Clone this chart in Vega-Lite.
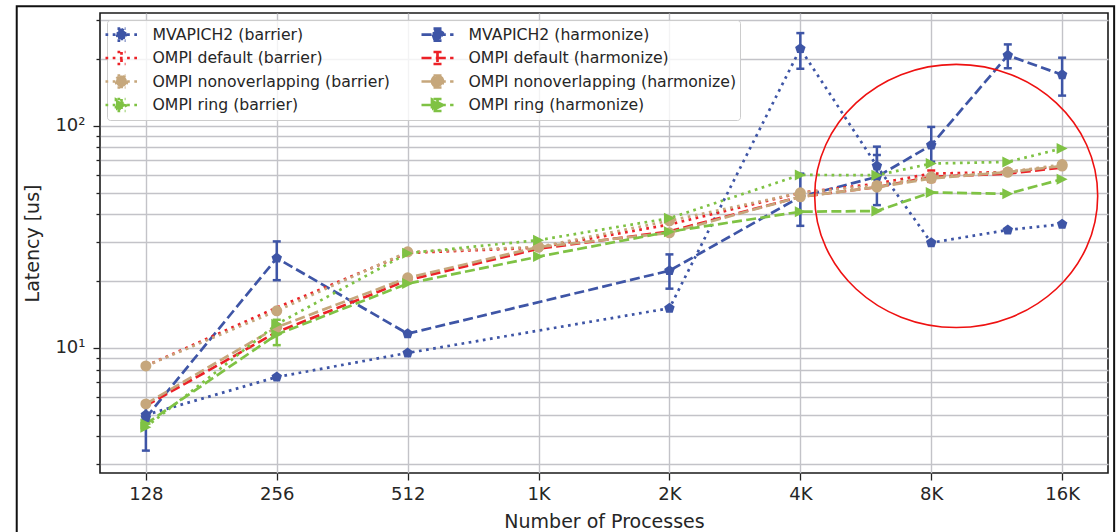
{
  "$schema": "https://vega.github.io/schema/vega-lite/v6.json",
  "width": 1008,
  "height": 460,
  "autosize": {"type": "none"},
  "padding": {"left": 100, "top": 13, "right": 11, "bottom": 59},
  "background": "white",
  "config": {
    "font": "DejaVu Sans",
    "view": {"stroke": "#1a1a1a", "strokeWidth": 1.6},
    "axis": {
      "domain": false,
      "grid": true,
      "gridColor": "#c3c3c8",
      "gridWidth": 1.4,
      "tickColor": "#222222",
      "tickWidth": 1.3,
      "labelFont": "DejaVu Sans",
      "labelColor": "#262626",
      "labelFontSize": 18,
      "titleFont": "DejaVu Sans",
      "titleColor": "#262626",
      "titleFontSize": 19,
      "titleFontWeight": "normal",
      "labelOverlap": false,
      "labelFlush": false
    }
  },
  "datasets": {
    "pts": [
      {"s": "MVAPICH2 (barrier)", "n": 128, "lat": 5.0},
      {"s": "MVAPICH2 (barrier)", "n": 256, "lat": 7.4},
      {"s": "MVAPICH2 (barrier)", "n": 512, "lat": 9.5},
      {"s": "MVAPICH2 (barrier)", "n": 2048, "lat": 15.1},
      {"s": "MVAPICH2 (barrier)", "n": 4096, "lat": 223, "lo": 181, "hi": 262},
      {"s": "MVAPICH2 (barrier)", "n": 6144, "lat": 66, "lo": 55, "hi": 80.7},
      {"s": "MVAPICH2 (barrier)", "n": 8192, "lat": 29.8},
      {"s": "MVAPICH2 (barrier)", "n": 12288, "lat": 34.0},
      {"s": "MVAPICH2 (barrier)", "n": 16384, "lat": 36.1},
      {"s": "MVAPICH2 (harmonize)", "n": 128, "lat": 4.85, "lo": 3.45, "hi": 5.6},
      {"s": "MVAPICH2 (harmonize)", "n": 256, "lat": 25.4, "lo": 20.2, "hi": 30.2},
      {"s": "MVAPICH2 (harmonize)", "n": 512, "lat": 11.6},
      {"s": "MVAPICH2 (harmonize)", "n": 2048, "lat": 22.3, "lo": 18.5, "hi": 26.4},
      {"s": "MVAPICH2 (harmonize)", "n": 4096, "lat": 48, "lo": 35.5, "hi": 61},
      {"s": "MVAPICH2 (harmonize)", "n": 6144, "lat": 59, "lo": 44, "hi": 74},
      {"s": "MVAPICH2 (harmonize)", "n": 8192, "lat": 82, "lo": 69, "hi": 99},
      {"s": "MVAPICH2 (harmonize)", "n": 12288, "lat": 208, "lo": 182, "hi": 233},
      {"s": "MVAPICH2 (harmonize)", "n": 16384, "lat": 170, "lo": 137, "hi": 203},
      {"s": "OMPI default (barrier)", "n": 128, "lat": 8.3},
      {"s": "OMPI default (barrier)", "n": 256, "lat": 15.2},
      {"s": "OMPI default (barrier)", "n": 512, "lat": 26.8},
      {"s": "OMPI default (barrier)", "n": 1024, "lat": 28.3},
      {"s": "OMPI default (barrier)", "n": 2048, "lat": 36},
      {"s": "OMPI default (barrier)", "n": 4096, "lat": 50},
      {"s": "OMPI default (barrier)", "n": 6144, "lat": 55},
      {"s": "OMPI default (barrier)", "n": 8192, "lat": 61},
      {"s": "OMPI default (barrier)", "n": 12288, "lat": 62},
      {"s": "OMPI default (barrier)", "n": 16384, "lat": 66},
      {"s": "OMPI default (harmonize)", "n": 128, "lat": 5.5},
      {"s": "OMPI default (harmonize)", "n": 256, "lat": 11.8},
      {"s": "OMPI default (harmonize)", "n": 512, "lat": 20.2},
      {"s": "OMPI default (harmonize)", "n": 1024, "lat": 28},
      {"s": "OMPI default (harmonize)", "n": 2048, "lat": 33.5},
      {"s": "OMPI default (harmonize)", "n": 4096, "lat": 48},
      {"s": "OMPI default (harmonize)", "n": 6144, "lat": 53},
      {"s": "OMPI default (harmonize)", "n": 8192, "lat": 59, "lo": 56, "hi": 63},
      {"s": "OMPI default (harmonize)", "n": 12288, "lat": 61},
      {"s": "OMPI default (harmonize)", "n": 16384, "lat": 65},
      {"s": "OMPI nonoverlapping (barrier)", "n": 128, "lat": 8.3},
      {"s": "OMPI nonoverlapping (barrier)", "n": 256, "lat": 14.7},
      {"s": "OMPI nonoverlapping (barrier)", "n": 512, "lat": 27.1},
      {"s": "OMPI nonoverlapping (barrier)", "n": 1024, "lat": 28.5},
      {"s": "OMPI nonoverlapping (barrier)", "n": 2048, "lat": 37.4},
      {"s": "OMPI nonoverlapping (barrier)", "n": 4096, "lat": 50},
      {"s": "OMPI nonoverlapping (barrier)", "n": 6144, "lat": 54},
      {"s": "OMPI nonoverlapping (barrier)", "n": 8192, "lat": 59},
      {"s": "OMPI nonoverlapping (barrier)", "n": 12288, "lat": 62},
      {"s": "OMPI nonoverlapping (barrier)", "n": 16384, "lat": 67},
      {"s": "OMPI nonoverlapping (harmonize)", "n": 128, "lat": 5.6},
      {"s": "OMPI nonoverlapping (harmonize)", "n": 256, "lat": 12.4},
      {"s": "OMPI nonoverlapping (harmonize)", "n": 512, "lat": 20.7},
      {"s": "OMPI nonoverlapping (harmonize)", "n": 1024, "lat": 28.5},
      {"s": "OMPI nonoverlapping (harmonize)", "n": 2048, "lat": 33},
      {"s": "OMPI nonoverlapping (harmonize)", "n": 4096, "lat": 48},
      {"s": "OMPI nonoverlapping (harmonize)", "n": 6144, "lat": 53},
      {"s": "OMPI nonoverlapping (harmonize)", "n": 8192, "lat": 58},
      {"s": "OMPI nonoverlapping (harmonize)", "n": 12288, "lat": 62},
      {"s": "OMPI nonoverlapping (harmonize)", "n": 16384, "lat": 66},
      {"s": "OMPI ring (barrier)", "n": 128, "lat": 4.4},
      {"s": "OMPI ring (barrier)", "n": 256, "lat": 12.8, "lo": 10.3, "hi": 13.4},
      {"s": "OMPI ring (barrier)", "n": 512, "lat": 26.7},
      {"s": "OMPI ring (barrier)", "n": 1024, "lat": 30.6},
      {"s": "OMPI ring (barrier)", "n": 2048, "lat": 38.4},
      {"s": "OMPI ring (barrier)", "n": 4096, "lat": 60.2},
      {"s": "OMPI ring (barrier)", "n": 6144, "lat": 60},
      {"s": "OMPI ring (barrier)", "n": 8192, "lat": 67.7},
      {"s": "OMPI ring (barrier)", "n": 12288, "lat": 68.9},
      {"s": "OMPI ring (barrier)", "n": 16384, "lat": 79.2},
      {"s": "OMPI ring (harmonize)", "n": 128, "lat": 4.55},
      {"s": "OMPI ring (harmonize)", "n": 256, "lat": 11.5},
      {"s": "OMPI ring (harmonize)", "n": 512, "lat": 19.5},
      {"s": "OMPI ring (harmonize)", "n": 1024, "lat": 25.8},
      {"s": "OMPI ring (harmonize)", "n": 2048, "lat": 33.4},
      {"s": "OMPI ring (harmonize)", "n": 4096, "lat": 41.1},
      {"s": "OMPI ring (harmonize)", "n": 6144, "lat": 41.4},
      {"s": "OMPI ring (harmonize)", "n": 8192, "lat": 50.2},
      {"s": "OMPI ring (harmonize)", "n": 12288, "lat": 49.5},
      {"s": "OMPI ring (harmonize)", "n": 16384, "lat": 57.6}
    ],
    "note": [{"n": 9350, "lat": 48.4}]
  },
  "layer": [
    {
      "data": {"name": "pts"},
      "mark": {"type": "line", "strokeWidth": 2.7, "strokeCap": "butt"},
      "encoding": {
        "x": {
          "field": "n", "type": "quantitative",
          "scale": {"type": "log", "base": 2, "domain": [100.4, 20890], "nice": false},
          "axis": {
            "values": [128, 256, 512, 1024, 2048, 4096, 8192, 16384],
            "labelExpr": "datum.value >= 1024 ? (datum.value / 1024) + 'K' : '' + datum.value",
            "title": "Number of Processes",
            "tickSize": 7,
            "labelPadding": 5,
            "titlePadding": 9
          }
        },
        "y": {
          "field": "lat", "type": "quantitative",
          "scale": {"type": "log", "domain": [2.735, 322.7], "nice": false},
          "axis": {
            "values": [3, 4, 5, 6, 7, 8, 9, 10, 20, 30, 40, 50, 60, 70, 80, 90, 100, 200, 300],
            "labelExpr": "datum.value == 10 ? '10¹' : datum.value == 100 ? '10²' : ''",
            "tickSize": {"condition": {"test": "datum.value == 10 || datum.value == 100", "value": 7}, "value": 4},
            "title": "Latency [us]",
            "labelPadding": 8,
            "titlePadding": 12
          }
        },
        "color": {
          "field": "s", "type": "nominal",
          "scale": {
            "domain": ["MVAPICH2 (barrier)", "OMPI default (barrier)", "OMPI nonoverlapping (barrier)", "OMPI ring (barrier)", "MVAPICH2 (harmonize)", "OMPI default (harmonize)", "OMPI nonoverlapping (harmonize)", "OMPI ring (harmonize)"],
            "range": ["#3e55a6", "#ec2127", "#c6a77c", "#7fc244", "#3e55a6", "#ec2127", "#c6a77c", "#7fc244"]
          },
          "legend": {
            "title": null,
            "orient": "none",
            "legendX": 7,
            "legendY": 7,
            "columns": 2,
            "columnPadding": 26,
            "rowPadding": 0.5,
            "padding": 3,
            "symbolSize": 400,
            "symbolStrokeWidth": 2.7,
            "labelFont": "DejaVu Sans",
            "labelFontSize": 15.7,
            "labelColor": "#262626",
            "labelOffset": 19.5,
            "labelLimit": 400,
            "strokeColor": "#cccccc",
            "fillColor": "rgba(255,255,255,0.8)",
            "cornerRadius": 3,
            "encode": {
              "symbols": {
                "update": {
                  "fill": {"signal": "scale('color', datum.value)"},
                  "stroke": {"signal": "scale('color', datum.value)"},
                  "strokeWidth": {"value": 2.7},
                  "size": {"value": 400},
                  "opacity": {"value": 1}
                }
              }
            }
          }
        },
        "strokeDash": {
          "field": "s", "type": "nominal",
          "scale": {
            "domain": ["MVAPICH2 (barrier)", "OMPI default (barrier)", "OMPI nonoverlapping (barrier)", "OMPI ring (barrier)", "MVAPICH2 (harmonize)", "OMPI default (harmonize)", "OMPI nonoverlapping (harmonize)", "OMPI ring (harmonize)"],
            "range": [[2.7, 4.5], [2.7, 4.5], [2.7, 4.5], [2.7, 4.5], [10, 4.3], [10, 4.3], [10, 4.3], [10, 4.3]]
          }
        }
      }
    },
    {
      "data": {"name": "pts"},
      "transform": [{"filter": "false"}],
      "mark": {"type": "point", "filled": true, "size": 121, "opacity": 1},
      "encoding": {
        "x": {"field": "n", "type": "quantitative"},
        "y": {"field": "lat", "type": "quantitative"},
        "color": {"field": "s", "type": "nominal"},
        "shape": {
          "field": "s", "type": "nominal",
          "scale": {
            "domain": ["MVAPICH2 (barrier)", "OMPI default (barrier)", "OMPI nonoverlapping (barrier)", "OMPI ring (barrier)", "MVAPICH2 (harmonize)", "OMPI default (harmonize)", "OMPI nonoverlapping (harmonize)", "OMPI ring (harmonize)"],
            "range": [
              "M-1.6,0H1.6M0,-0.6V0.6M-0.4,-0.6H0.4M-0.4,0.6H0.4M0,-0.55L0.523,-0.17L0.323,0.445L-0.323,0.445L-0.523,-0.17Z",
              "M-1.6,0H1.6M0,-0.6V0.6M-0.4,-0.6H0.4M-0.4,0.6H0.4",
              "M-1.6,0H1.6M0,-0.6V0.6M-0.4,-0.6H0.4M-0.4,0.6H0.4M-0.55,0A0.55,0.55,0,1,0,0.55,0A0.55,0.55,0,1,0,-0.55,0Z",
              "M-1.6,0H1.6M0,-0.6V0.6M-0.4,-0.6H0.4M-0.4,0.6H0.4M0.55,0L-0.55,0.55L-0.55,-0.55Z",
              "M-1.6,0H1.6M0,-0.6V0.6M-0.4,-0.6H0.4M-0.4,0.6H0.4M0,-0.55L0.523,-0.17L0.323,0.445L-0.323,0.445L-0.523,-0.17Z",
              "M-1.6,0H1.6M0,-0.6V0.6M-0.4,-0.6H0.4M-0.4,0.6H0.4",
              "M-1.6,0H1.6M0,-0.6V0.6M-0.4,-0.6H0.4M-0.4,0.6H0.4M-0.55,0A0.55,0.55,0,1,0,0.55,0A0.55,0.55,0,1,0,-0.55,0Z",
              "M-1.6,0H1.6M0,-0.6V0.6M-0.4,-0.6H0.4M-0.4,0.6H0.4M0.55,0L-0.55,0.55L-0.55,-0.55Z"
            ]
          }
        }
      }
    },
    {
      "data": {"name": "pts"},
      "transform": [{"filter": "isValid(datum.lo)"}],
      "mark": {"type": "rule", "strokeWidth": 2.5},
      "encoding": {
        "x": {"field": "n", "type": "quantitative"},
        "y": {"field": "lo", "type": "quantitative"},
        "y2": {"field": "hi"},
        "color": {"field": "s", "type": "nominal"}
      }
    },
    {
      "data": {"name": "pts"},
      "transform": [{"filter": "isValid(datum.lo)"}],
      "mark": {"type": "point", "shape": "M-1,0H1", "filled": false, "size": 64, "strokeWidth": 2.5, "opacity": 1},
      "encoding": {
        "x": {"field": "n", "type": "quantitative"},
        "y": {"field": "lo", "type": "quantitative"},
        "color": {"field": "s", "type": "nominal"}
      }
    },
    {
      "data": {"name": "pts"},
      "transform": [{"filter": "isValid(datum.hi)"}],
      "mark": {"type": "point", "shape": "M-1,0H1", "filled": false, "size": 64, "strokeWidth": 2.5, "opacity": 1},
      "encoding": {
        "x": {"field": "n", "type": "quantitative"},
        "y": {"field": "hi", "type": "quantitative"},
        "color": {"field": "s", "type": "nominal"}
      }
    },
    {
      "data": {"name": "pts"},
      "transform": [{"filter": "indexof(datum.s, 'MVAPICH2') >= 0"}],
      "mark": {"type": "point", "shape": "M0,-1L0.951,-0.309L0.588,0.809L-0.588,0.809L-0.951,-0.309Z", "filled": true, "size": 121, "opacity": 1, "strokeWidth": 0},
      "encoding": {
        "x": {"field": "n", "type": "quantitative"},
        "y": {"field": "lat", "type": "quantitative"},
        "color": {"field": "s", "type": "nominal"}
      }
    },
    {
      "data": {"name": "pts"},
      "transform": [{"filter": "indexof(datum.s, 'nonoverlapping') >= 0"}],
      "mark": {"type": "point", "shape": "circle", "filled": true, "size": 121, "opacity": 1, "strokeWidth": 0},
      "encoding": {
        "x": {"field": "n", "type": "quantitative"},
        "y": {"field": "lat", "type": "quantitative"},
        "color": {"field": "s", "type": "nominal"}
      }
    },
    {
      "data": {"name": "pts"},
      "transform": [{"filter": "indexof(datum.s, 'ring') >= 0"}],
      "mark": {"type": "point", "shape": "M1,0L-1,1L-1,-1Z", "filled": true, "size": 121, "opacity": 1, "strokeWidth": 0},
      "encoding": {
        "x": {"field": "n", "type": "quantitative"},
        "y": {"field": "lat", "type": "quantitative"},
        "color": {"field": "s", "type": "nominal"}
      }
    },
    {
      "data": {"name": "note"},
      "mark": {"type": "point", "shape": "M-1,0A1,0.93,0,1,0,1,0A1,0.93,0,1,0,-1,0Z", "filled": false, "size": 80089, "stroke": "#ee1111", "strokeWidth": 1.6, "opacity": 1},
      "encoding": {
        "x": {"field": "n", "type": "quantitative"},
        "y": {"field": "lat", "type": "quantitative"}
      }
    },
    {
      "data": {"values": [{}]},
      "mark": {"type": "rect", "fill": null, "fillOpacity": 0, "stroke": "#111111", "strokeWidth": 2, "clip": false},
      "encoding": {
        "x": {"datum": 64.6, "type": "quantitative"},
        "x2": {"datum": 21580},
        "y": {"datum": 346, "type": "quantitative"},
        "y2": {"datum": 1.29}
      }
    }
  ]
}
